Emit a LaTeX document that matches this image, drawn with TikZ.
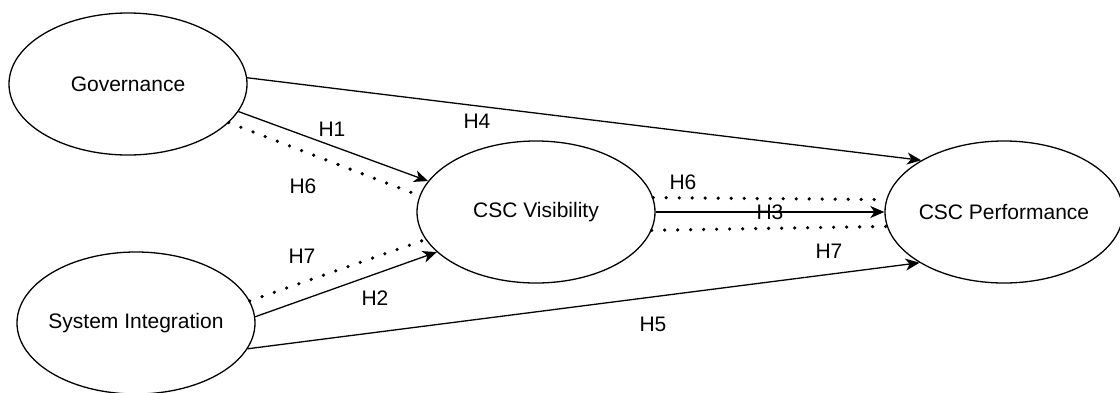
\documentclass[tikz,border=0pt]{standalone}
\usepackage{fontspec}
\setmainfont{Liberation Sans}
\usetikzlibrary{shapes.geometric,arrows.meta}
\begin{document}
\begin{tikzpicture}[x=1pt,y=-1pt,
  construct/.style={ellipse, draw, line width=1.3pt, minimum width=238pt,
    minimum height=142pt, inner ysep=0pt, inner xsep=-10pt,
    font=\fontsize{21}{24}\selectfont},
  effect/.style={draw, line width=1.3pt,
    -{Stealth[length=14pt,width=12pt,inset=4pt]}},
  mediation/.style={draw, line width=3.6pt, line cap=round,
    dash pattern=on 0pt off 13pt},
  hyp/.style={font=\fontsize{21}{24}\selectfont, inner sep=0pt}]
\useasboundingbox (0,0) rectangle (1120,392);

% constructs
\node[construct] (gov)  at (128,84)   {Governance};
\node[construct] (sys)  at (136,323)  {System Integration};
\node[construct] (vis)  at (536,212)  {CSC Visibility};
\node[construct] (perf) at (1004,212) {CSC Performance};

% direct effects
\draw[effect] (gov.3)   -- (perf.148);
\draw[effect] (gov.-14) -- (vis.164);
\draw[effect] (sys.3)   -- (vis.202);
\draw[effect] (sys.-13) -- (perf.211);
\draw[effect] (vis.east) -- (perf.west);

% mediated paths
\draw[mediation] (gov.-21) -- (vis.172);
\draw[mediation] (sys.11)  -- (vis.194);
\draw[mediation] (vis.7)   -- (perf.174);
\draw[mediation] (vis.-9)  -- (perf.187);

% hypothesis labels
\node[hyp] (h1)  at (332,129) {H1};
\node[hyp] (h4)  at (477,121) {H4};
\node[hyp] (h6a) at (303,186) {H6};
\node[hyp] (h7a) at (302,256) {H7};
\node[hyp] (h2)  at (375,298) {H2};
\node[hyp] (h6b) at (683,182) {H6};
\node[hyp] (h3)  at (770,212) {H3};
\node[hyp] (h7b) at (829,251) {H7};
\node[hyp] (h5)  at (653,324) {H5};
\end{tikzpicture}
\end{document}
